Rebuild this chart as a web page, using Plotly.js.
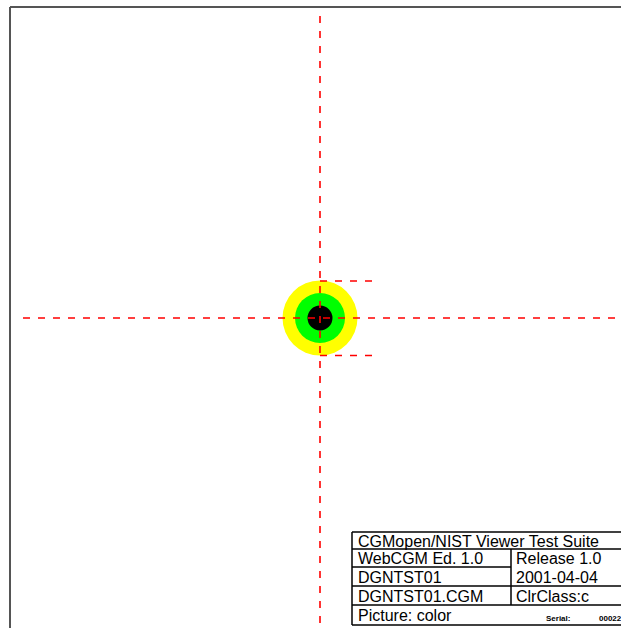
<!DOCTYPE html>
<html>
<head>
<meta charset="utf-8">
<script src="https://cdn.plot.ly/plotly-3.0.1.min.js"></script>
<style>
html,body{margin:0;padding:0;background:#fff;overflow:hidden;}
#chart{width:621px;height:628px;}
</style>
</head>
<body>
<div id="chart"></div>
<script>
// ---- data ----
const centerX = 320;
const centerY = 318;
const ringRadii = [37.5, 25, 12.5];
const ringColors = ["#ffff00", "#00ff00", "#000000"];

const tableLeftText = ["CGMopen/NIST Viewer Test Suite", "WebCGM Ed. 1.0", "DGNTST01", "DGNTST01.CGM", "Picture: color"];
const tableRightText = ["", "Release 1.0", "2001-04-04", "ClrClass:c", ""];
const serialLabel = "Serial:";
const serialValue = "00022";

// ---- layout geometry ----
const W = 621, H = 628;
const rowLines = [532, 549, 567, 586, 605, 625];
const tableX0 = 352, tableDiv = 511, tableX1 = 640;

const shapes = [];
// frame
shapes.push({type:"line", xref:"x", yref:"y", x0:10, x1:W+10, y0:7, y1:7, line:{color:"#555", width:2}});
shapes.push({type:"line", xref:"x", yref:"y", x0:10, x1:10, y0:7, y1:H+10, line:{color:"#555", width:2}});

// rings
ringRadii.forEach((r, i) => {
  shapes.push({type:"circle", xref:"x", yref:"y",
    x0:centerX - r, x1:centerX + r, y0:centerY - r, y1:centerY + r,
    fillcolor:ringColors[i], line:{width:0}});
});

// dashed red lines
const dash = "7px,8px";
const red = {color:"#ff0000", width:1.6, dash:dash};
shapes.push({type:"line", xref:"x", yref:"y", x0:centerX, x1:centerX, y0:16, y1:H+5, line:red});
shapes.push({type:"line", xref:"x", yref:"y", x0:23, x1:W+5, y0:centerY, y1:centerY, line:red});
const r0 = ringRadii[0];
shapes.push({type:"line", xref:"x", yref:"y", x0:centerX, x1:centerX+56, y0:centerY - r0 + 0.5, y1:centerY - r0 + 0.5, line:red});
shapes.push({type:"line", xref:"x", yref:"y", x0:centerX, x1:centerX+56, y0:centerY + r0, y1:centerY + r0, line:red});

// table lines
const tl = {color:"#000", width:1.5};
rowLines.forEach((y, i) => {
  const x1 = (i === 2) ? tableDiv : tableX1;
  shapes.push({type:"line", xref:"x", yref:"y", x0:tableX0, x1:x1, y0:y, y1:y, line:tl});
});
shapes.push({type:"line", xref:"x", yref:"y", x0:tableX0, x1:tableX0, y0:rowLines[0], y1:rowLines[5], line:tl});
shapes.push({type:"line", xref:"x", yref:"y", x0:tableDiv, x1:tableDiv, y0:rowLines[1], y1:rowLines[4], line:tl});

// table text
const annotations = [];
const font = {family:"Liberation Sans, Arial, sans-serif", size:16, color:"#000"};
tableLeftText.forEach((t, i) => {
  annotations.push({xref:"x", yref:"y", x:tableX0 + 4, y:(rowLines[i] + rowLines[i+1]) / 2 + 0.5,
    text:t, showarrow:false, xanchor:"left", yanchor:"middle", font:font});
});
tableRightText.forEach((t, i) => {
  if (!t) return;
  annotations.push({xref:"x", yref:"y", x:tableDiv + 3, y:(rowLines[i] + rowLines[i+1]) / 2 + 0.5,
    text:t, showarrow:false, xanchor:"left", yanchor:"middle", font:font});
});
const small = {family:"Liberation Sans, Arial, sans-serif", size:8, color:"#000"};
annotations.push({xref:"x", yref:"y", x:544, y:618, text:"<b>"+serialLabel+"</b>", showarrow:false, xanchor:"left", yanchor:"middle", font:small});
annotations.push({xref:"x", yref:"y", x:597, y:618, text:"<b>"+serialValue+"</b>", showarrow:false, xanchor:"left", yanchor:"middle", font:small});

const layout = {
  width:W, height:H,
  margin:{l:0, r:0, t:0, b:0, pad:0},
  paper_bgcolor:"#fff", plot_bgcolor:"#fff",
  showlegend:false,
  xaxis:{range:[0, W], visible:false, fixedrange:true},
  yaxis:{range:[H, 0], visible:false, fixedrange:true},
  shapes:shapes,
  annotations:annotations
};

Plotly.newPlot("chart", [{x:[centerX], y:[centerY], mode:"markers", marker:{opacity:0}, hoverinfo:"skip", type:"scatter"}], layout, {staticPlot:true, displayModeBar:false});
</script>
</body>
</html>
